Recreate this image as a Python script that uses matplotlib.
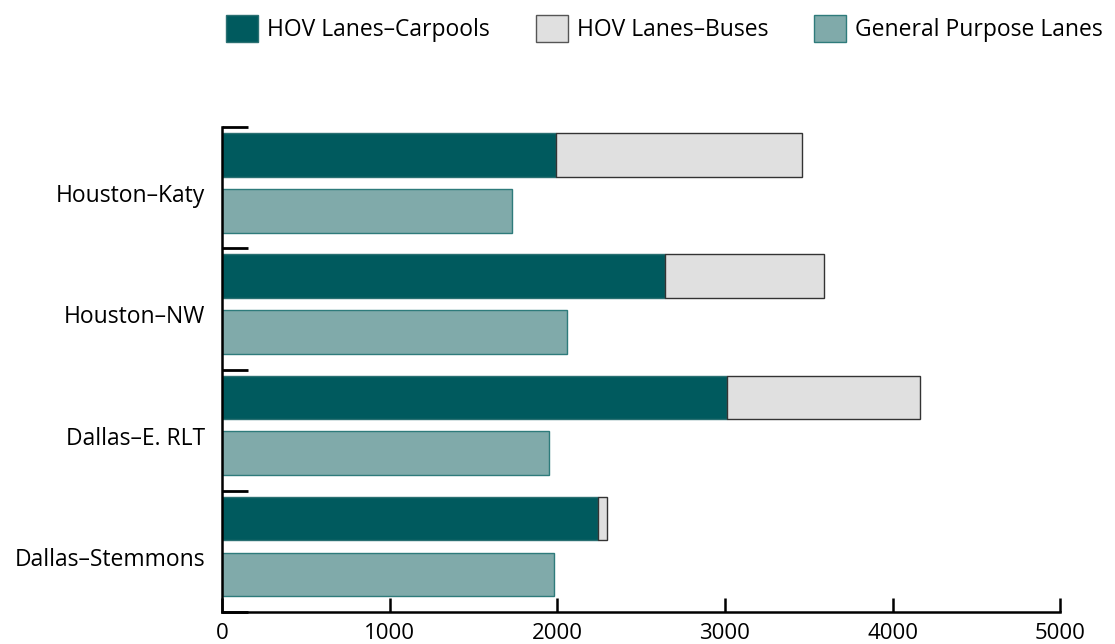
import matplotlib
matplotlib.use('Agg')
import matplotlib.pyplot as plt
from matplotlib.patches import Patch
import numpy as np

plt.rcParams['font.family'] = ['Open Sans', 'DejaVu Sans']

corridors = ['Houston–Katy', 'Houston–NW', 'Dallas–E. RLT', 'Dallas–Stemmons']
carpools = [1990, 2640, 3010, 2240]
buses = [1470, 950, 1150, 55]
general = [1730, 2055, 1950, 1980]

c_carpool = '#005a5e'
c_bus = '#e0e0e0'
c_gp = '#80aaaa'

fig = plt.figure(figsize=(11.15, 6.44), dpi=100)
ax = fig.add_axes([0.199, 0.0497, 0.752, 0.753])

y = np.arange(len(corridors))
h = 0.36
ax.barh(y + 0.23, carpools, height=h, color=c_carpool, edgecolor='#2a7072', linewidth=1)
ax.barh(y + 0.23, buses, left=carpools, height=h, color=c_bus, edgecolor='#333333', linewidth=1)
ax.barh(y + 0.69, general, height=h, color=c_gp, edgecolor='#2e7b7b', linewidth=1)

ax.set_xlim(0, 5000)
ax.set_ylim(len(corridors), 0)
ax.set_xticks([0, 1000, 2000, 3000, 4000, 5000])
ax.tick_params(axis='x', direction='in', length=10, width=1.8, labelsize=16, pad=8)

ax.set_yticks(np.arange(len(corridors) + 1))
ax.set_yticklabels([])
ax.set_yticks(y + 0.545, minor=True)
ax.set_yticklabels(corridors, minor=True)
ax.tick_params(axis='y', which='major', direction='in', length=19, width=2)
ax.tick_params(axis='y', which='minor', length=0, labelsize=16.5, pad=12)

for s in ['top', 'right']:
    ax.spines[s].set_visible(False)
for s in ['left', 'bottom']:
    ax.spines[s].set_linewidth(1.8)

handles = [Patch(facecolor=c_carpool, edgecolor='#2a7072', label='HOV Lanes–Carpools'),
           Patch(facecolor=c_bus, edgecolor='#555555', label='HOV Lanes–Buses'),
           Patch(facecolor=c_gp, edgecolor='#2e7b7b', label='General Purpose Lanes')]
fig.legend(handles=handles, loc='upper center', bbox_to_anchor=(0.596, 1.008), ncol=3,
           frameon=False, fontsize=16.5, handlelength=1.4, handleheight=1.4,
           handletextpad=0.4, columnspacing=2.0)

plt.savefig('out.png', dpi=100)
